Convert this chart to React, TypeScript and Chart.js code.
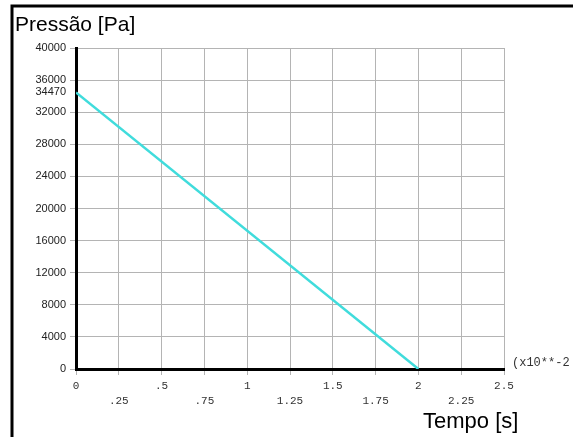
import React, { useEffect, useRef } from "react";
import { Chart, registerables } from "chart.js";

Chart.register(...registerables);

const titleText = "Pressão [Pa]";
const xTitleText = "Tempo [s]";
const xExponentText = "(x10**-2";

const times = [0, 2];
const pressures = [34470, 0];

const yTickValues = [0, 4000, 8000, 12000, 16000, 20000, 24000, 28000, 32000, 36000, 40000, 34470];
const yNoGridValue = 34470;

const xTickValues = [0, 0.25, 0.5, 0.75, 1, 1.25, 1.5, 1.75, 2, 2.25, 2.5];
const xTickLabels = ["0", ".25", ".5", ".75", "1", "1.25", "1.5", "1.75", "2", "2.25", "2.5"];

const W = 574;
const H = 437;

export default function App() {
  const ref = useRef<HTMLCanvasElement | null>(null);

  useEffect(() => {
    const canvas = ref.current;
    if (!canvas) return;

    const framePlugin = {
      id: "frame",
      afterDraw(chart: any) {
        const ctx = chart.ctx;
        ctx.save();
        ctx.strokeStyle = "#000";
        ctx.lineWidth = 3;
        ctx.beginPath();
        ctx.moveTo(12, 437);
        ctx.lineTo(12, 6);
        ctx.lineTo(573, 6);
        ctx.stroke();
        ctx.fillStyle = "#000";
        ctx.textBaseline = "alphabetic";
        ctx.textAlign = "left";
        ctx.font = '21px "Liberation Sans", Arial, sans-serif';
        ctx.fillText(titleText, 15, 31);
        ctx.font = '22px "Liberation Sans", Arial, sans-serif';
        ctx.fillText(xTitleText, 423, 428);
        ctx.fillStyle = "#333";
        ctx.font = '12px "Liberation Mono", monospace';
        ctx.textBaseline = "middle";
        ctx.fillText(xExponentText, 512, 363);
        ctx.restore();
      },
    };

    const chart = new Chart(canvas, {
      type: "line",
      data: {
        datasets: [
          {
            data: times.map((t, i) => ({ x: t, y: pressures[i] })),
            borderColor: "#40dcdc",
            borderWidth: 2.5,
            pointRadius: 0,
            fill: false,
            tension: 0,
          },
        ],
      },
      options: {
        responsive: false,
        animation: false,
        layout: { padding: { top: 48, right: 70, left: 0, bottom: 0 } },
        plugins: {
          legend: { display: false },
          tooltip: { enabled: false },
          title: { display: false },
        },
        scales: {
          x: {
            type: "linear",
            min: 0,
            max: 2.5,
            afterFit: (scale: any) => {
              scale.height = 68;
            },
            afterBuildTicks: (scale: any) => {
              scale.ticks = xTickValues.map((v) => ({ value: v }));
            },
            grid: {
              color: "#b4b4b4",
              lineWidth: 1,
              tickLength: 6,
            },
            border: { color: "#000", width: 3 },
            ticks: {
              autoSkip: false,
              maxRotation: 0,
              padding: 4,
              color: "#333",
              font: { family: '"Liberation Mono", monospace', size: 11, lineHeight: "15px" },
              callback: (_v: any, i: number) => (i % 2 === 0 ? xTickLabels[i] : ["", xTickLabels[i]]),
            },
          },
          y: {
            type: "linear",
            min: 0,
            max: 40000,
            afterFit: (scale: any) => {
              scale.width = 76;
            },
            afterBuildTicks: (scale: any) => {
              scale.ticks = yTickValues.map((v) => ({ value: v }));
            },
            grid: {
              color: (c: any) => (c.tick && c.tick.value === yNoGridValue ? "rgba(0,0,0,0)" : "#b4b4b4"),
              lineWidth: 1,
              tickLength: 6,
            },
            border: { color: "#000", width: 3 },
            ticks: {
              autoSkip: false,
              padding: 4,
              color: "#222",
              font: { family: '"Liberation Sans", Arial, sans-serif', size: 11 },
              callback: (v: any) => String(v),
            },
          },
        },
      },
      plugins: [framePlugin],
    } as any);

    return () => chart.destroy();
  }, []);

  return (
    <div style={{ position: "absolute", left: 0, top: 0, width: W, height: H, background: "#fff" }}>
      <canvas ref={ref} width={W} height={H} style={{ display: "block", width: W, height: H }} />
    </div>
  );
}
